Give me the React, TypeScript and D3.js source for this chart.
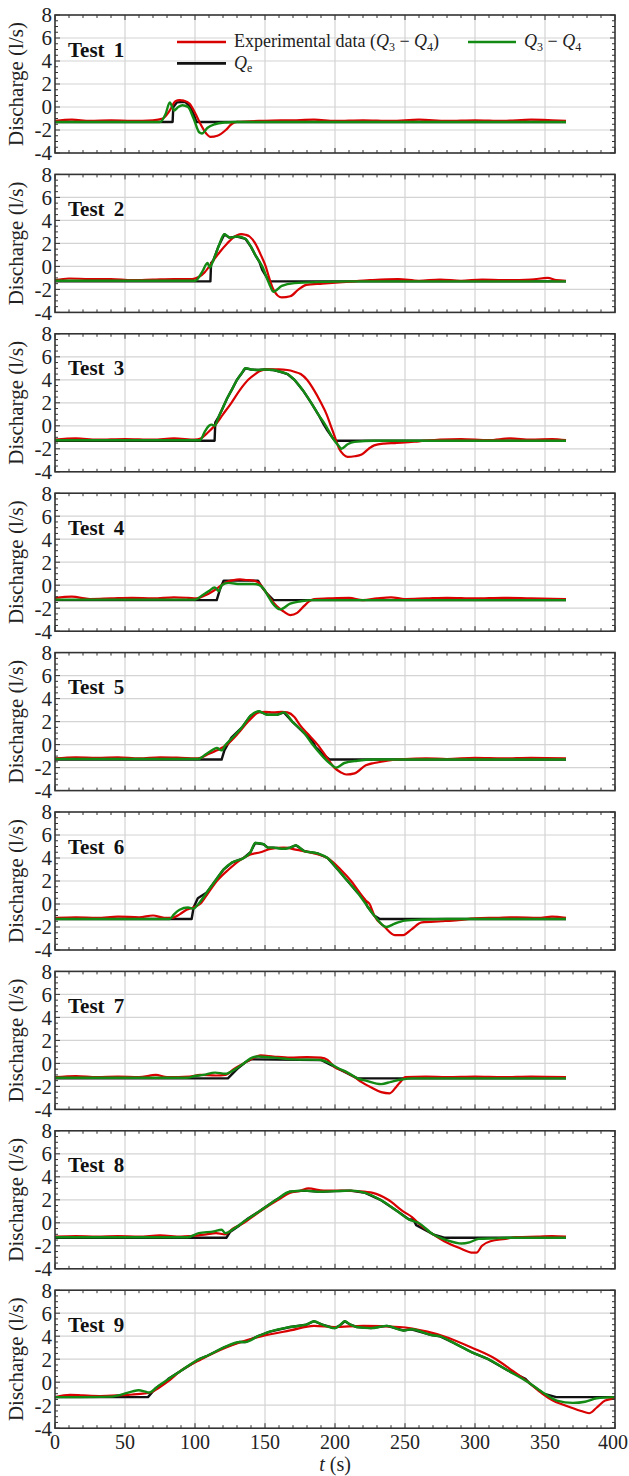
import React from "react";
import * as d3 from "d3";

// test data: [t (s), discharge (l/s)]
const exp1 = [[0,-1.2],[12,-1.1],[25,-1.2],[40,-1.15],[55,-1.2],[70,-1.15],[77,-1.0],[82,-0.3],[86,0.5],[89,0.6],[92,0.55],[96,0.3],[100,-0.5],[104,-1.5],[108,-2.3],[111,-2.6],[116,-2.5],[122,-2.0],[126,-1.5],[130,-1.3],[150,-1.2],[170,-1.15],[185,-1.1],[200,-1.2],[220,-1.15],[240,-1.2],[260,-1.1],[280,-1.2],[300,-1.15],[320,-1.2],[340,-1.1],[355,-1.15],[365,-1.2]];
const model1 = [[0,-1.3],[75,-1.3],[79,-0.6],[82,0.4],[85,-0.3],[88,0.0],[91,0.15],[95,0.0],[99,-1.0],[103,-2.2],[105,-2.3],[109,-1.8],[114,-1.5],[121,-1.35],[130,-1.3],[365,-1.3]];
const qe1 = [[0,-1.3],[84,-1.3],[84.5,0],[87,0.4],[93,0.45],[96,0.1],[99,-0.6],[101,-1.3],[365,-1.3]];

const exp2 = [[0,-1.2],[10,-1.05],[25,-1.1],[40,-1.1],[55,-1.2],[70,-1.15],[85,-1.1],[98,-1.1],[103,-0.9],[107,-0.5],[113,0.5],[118,1.3],[123,2.0],[130,2.7],[133,2.8],[136,2.75],[139,2.6],[143,2.0],[147,1.0],[150.5,0],[153,-1.0],[156,-2.0],[162,-2.7],[168,-2.6],[174,-2.0],[179.5,-1.6],[191,-1.5],[208,-1.35],[225,-1.2],[245,-1.1],[260,-1.25],[275,-1.15],[290,-1.25],[305,-1.15],[320,-1.2],[340,-1.15],[352,-1.0],[358,-1.2],[365,-1.25]];
const model2 = [[0,-1.25],[100,-1.25],[105,-0.5],[109,0.3],[110.5,-0.1],[113,0.5],[117,1.8],[121,2.8],[124.7,2.5],[130,2.6],[136,2.4],[140,1.7],[143,1.0],[148,0],[153,-1.5],[156,-2.2],[162,-1.7],[171,-1.45],[191,-1.35],[210,-1.3],[365,-1.3]];
const qe2 = [[0,-1.3],[111,-1.3],[111.5,0.3],[146,0.4],[148,-0.3],[153,-1.3],[365,-1.3]];

const exp3 = [[0,-1.2],[15,-1.1],[30,-1.2],[50,-1.15],[70,-1.2],[85,-1.1],[100,-1.2],[104,-1.1],[109,-0.6],[114,0],[120,1.0],[126,2.0],[132,3.1],[138,4.0],[143,4.5],[147,4.8],[152,4.9],[160,4.9],[166,4.85],[171,4.7],[175.5,4.5],[180,4.0],[185,3.1],[190,2.0],[194,1.0],[197,0],[200,-1.0],[203,-2.0],[206,-2.5],[209,-2.7],[214,-2.65],[219,-2.5],[224,-2.0],[228,-1.7],[235,-1.55],[243,-1.5],[250,-1.45],[260,-1.35],[275,-1.2],[290,-1.15],[310,-1.25],[325,-1.1],[340,-1.2],[355,-1.15],[365,-1.25]];
const model3 = [[0,-1.25],[103.6,-1.25],[107,-0.5],[110,0],[112,0.1],[114,0],[117,0.8],[120,1.6],[123,2.4],[127,3.3],[130,4.0],[133,4.5],[136,5.0],[140,4.9],[145,4.85],[150,4.9],[156,4.85],[161,4.7],[166,4.5],[171,4.0],[177,3.1],[183,2.0],[188,1.0],[193.5,0],[198,-1.0],[203,-1.8],[204.5,-2.0],[209,-1.6],[214,-1.4],[228,-1.3],[365,-1.3]];
const qe3 = [[0,-1.3],[114,-1.3],[114.5,0.3],[192,0.1],[194,-0.3],[198,-1],[200,-1.3],[365,-1.3]];

const exp4 = [[0,-1.1],[12,-1.0],[25,-1.2],[40,-1.15],[55,-1.1],[70,-1.15],[85,-1.05],[95,-1.1],[101,-1.15],[107,-0.9],[113,-0.5],[119,0],[123,0.3],[127.6,0.45],[132,0.5],[137,0.45],[142,0.4],[145.6,0.2],[150,-0.5],[156,-1.5],[160,-2.0],[163.5,-2.3],[168,-2.6],[173,-2.4],[178,-1.8],[181.5,-1.4],[185,-1.2],[195,-1.15],[210,-1.1],[220,-1.3],[230,-1.15],[240,-1.05],[250,-1.2],[265,-1.15],[280,-1.1],[300,-1.15],[320,-1.1],[340,-1.15],[365,-1.2]];
const model4 = [[0,-1.25],[100,-1.25],[105,-0.9],[110,-0.5],[114,-0.2],[117,-0.5],[119,0],[124,0.2],[132,0.1],[142,0.1],[146,0],[149,-0.3],[152,-0.9],[155,-1.5],[161,-2.1],[168,-1.6],[175.5,-1.4],[185,-1.3],[365,-1.3]];
const qe4 = [[0,-1.3],[115.5,-1.3],[118,-0.3],[120.5,0.4],[145,0.4],[148,-0.2],[152,-0.8],[156,-1.3],[365,-1.3]];

const exp5 = [[0,-1.2],[15,-1.1],[30,-1.15],[45,-1.1],[60,-1.2],[75,-1.1],[90,-1.15],[100,-1.2],[104,-1.15],[110,-0.8],[115.6,-0.5],[122.8,0],[131,1],[138,2],[145.6,2.8],[150,2.85],[156,2.8],[162,2.85],[166,2.8],[171,2.4],[175,1.7],[180,1.0],[187.5,0],[193.5,-1],[199.5,-2],[204,-2.4],[208,-2.6],[214,-2.5],[222,-1.8],[228,-1.6],[235,-1.45],[240,-1.35],[250,-1.25],[265,-1.2],[280,-1.25],[300,-1.15],[320,-1.2],[340,-1.15],[365,-1.2]];
const model5 = [[0,-1.25],[102.4,-1.25],[107,-0.9],[112,-0.5],[115.6,-0.3],[119,-0.5],[122,0],[126,0.5],[133.6,1.5],[139.6,2.5],[145.6,2.9],[151.6,2.6],[158.8,2.6],[163.5,2.8],[169.5,2.0],[178,1.0],[184,0],[191,-1],[196,-1.6],[200.7,-2.0],[206.7,-1.6],[216,-1.4],[228,-1.3],[365,-1.3]];
const qe5 = [[0,-1.3],[119,-1.3],[121,-0.5],[126,0.6],[184,0.3],[186,-0.2],[191,-0.8],[196,-1.3],[365,-1.3]];

const exp6 = [[0,-1.2],[15,-1.15],[30,-1.2],[45,-1.1],[60,-1.15],[70,-1.0],[78,-1.2],[84,-1.2],[89,-0.9],[94,-0.5],[98.8,-0.3],[103.6,0],[109.6,1],[115.6,2],[124,3],[132,3.8],[139.6,4.3],[146.8,4.5],[154,4.8],[163.5,4.9],[173,4.7],[185,4.4],[194.7,4],[204,3],[211.5,2],[217.5,1],[222,0.3],[224.7,0],[228,-1],[235.5,-2],[242.7,-2.7],[248.7,-2.7],[254.7,-2.2],[262,-1.6],[276,-1.5],[288,-1.4],[300,-1.25],[315,-1.2],[330,-1.15],[345,-1.2],[355,-1.1],[365,-1.2]];
const model6 = [[0,-1.3],[82,-1.3],[85,-0.9],[89,-0.5],[95,-0.3],[98.8,-0.4],[102.4,0],[108.4,1],[114.4,2],[120.4,3],[126.4,3.6],[134.8,4],[139.6,4.5],[143,5.3],[149,5.2],[152,4.9],[156,4.9],[163.5,4.8],[168,4.9],[172,5.1],[178,4.6],[187.5,4.4],[194.7,4],[202,3],[209,2],[216,1],[222,0],[228,-1],[236.7,-2],[242.7,-1.7],[250,-1.45],[262,-1.35],[280,-1.3],[365,-1.3]];
const qe6 = [[0,-1.3],[97.6,-1.3],[99,-0.3],[102,0.5],[221,0.4],[223,-0.2],[228,-1],[232,-1.3],[365,-1.3]];

const exp7 = [[0,-1.2],[15,-1.1],[30,-1.2],[45,-1.15],[60,-1.2],[72,-1.0],[80,-1.2],[96,-1.15],[103.6,-1.0],[115,-1.05],[121.6,-1.0],[127.6,-0.5],[134.8,0],[142,0.5],[146.8,0.7],[156,0.6],[168,0.5],[180,0.55],[190,0.5],[194.7,0.3],[199.5,-0.3],[206.7,-0.7],[214,-1.2],[218.7,-1.6],[226,-2.1],[233,-2.5],[239,-2.6],[244,-2.0],[247.5,-1.5],[250,-1.2],[265,-1.15],[280,-1.2],[300,-1.15],[320,-1.2],[340,-1.15],[365,-1.2]];
const model7 = [[0,-1.25],[94,-1.25],[100,-1.1],[106,-1.0],[114.4,-0.8],[121.6,-0.9],[128.8,-0.5],[134.8,0],[140.8,0.5],[144.4,0.6],[156,0.5],[170.7,0.35],[190,0.3],[194.7,0.1],[202,-0.4],[209,-0.8],[216,-1.3],[222,-1.5],[233,-1.8],[240,-1.6],[247.5,-1.4],[255,-1.3],[365,-1.3]];
const qe7 = [[0,-1.3],[123.5,-1.3],[130,-0.5],[136,0.1],[140,0.35],[190,0.3],[216,-1.3],[365,-1.3]];

const exp8 = [[0,-1.2],[15,-1.15],[30,-1.2],[45,-1.15],[60,-1.2],[75,-1.1],[90,-1.2],[97,-1.15],[108,-1.0],[115,-0.9],[121.6,-1.0],[127,-0.5],[135,0],[143,0.7],[152.7,1.5],[159.5,2],[167.6,2.6],[175.7,2.8],[181,3.0],[192,2.8],[205,2.8],[216,2.75],[227,2.6],[238,2.0],[248.6,1.0],[255,0.5],[262,-0.3],[270,-1.0],[278,-1.6],[289,-2.2],[298.6,-2.6],[301,-2.6],[305,-2.0],[311,-1.6],[321.6,-1.4],[330,-1.25],[345,-1.2],[355,-1.15],[365,-1.2]];
const model8 = [[0,-1.25],[94.6,-1.25],[102.7,-0.9],[113.5,-0.75],[119,-0.6],[121.6,-0.9],[128,-0.5],[133.8,0],[146,1],[158,2],[167.6,2.7],[178,2.8],[189,2.7],[200,2.75],[211,2.8],[221.6,2.6],[232.4,2],[244.6,1],[252.7,0.3],[259.5,0],[270,-1],[279.7,-1.5],[290.5,-1.8],[296,-1.7],[302.7,-1.4],[313.5,-1.35],[325,-1.3],[365,-1.3]];
const qe8 = [[0,-1.3],[122.4,-1.3],[125,-0.8],[131,-0.3],[137,0.3],[256,0.3],[258,-0.2],[270,-1],[278,-1.3],[365,-1.3]];

const exp9 = [[0,-1.3],[10.7,-1.1],[20,-1.15],[32,-1.2],[45,-1.15],[52.5,-1.1],[62.6,-1.0],[68.4,-0.9],[74,-0.5],[80,0],[90,1],[104.5,2],[121.8,3],[133,3.5],[147.8,4],[168,4.5],[185,4.9],[199.7,4.8],[220,4.9],[246,4.8],[266,4.4],[277.6,4],[297.8,3],[315,2],[326.7,1],[338,0],[348,-1],[355.6,-1.6],[364,-2.0],[375.8,-2.5],[381.5,-2.7],[387,-2.2],[393,-1.6],[400,-1.4]];
const model9 = [[0,-1.3],[41,-1.25],[46.8,-1.1],[55.4,-0.8],[59.7,-0.7],[64,-0.8],[67,-0.9],[74,-0.3],[81.4,0.3],[90,1],[103,2],[108.8,2.3],[120.3,3],[132,3.5],[136,3.5],[145,4],[153.5,4.4],[168,4.8],[179.5,5.0],[185,5.3],[191,5.0],[199.7,4.7],[203,4.9],[207,5.3],[211,5.0],[215.6,4.8],[225.7,4.7],[237,4.9],[248.8,4.5],[254.5,4.6],[269,4.1],[274.7,4.0],[283.4,3.5],[297.8,2.6],[309.4,2],[323.8,1],[338,0],[349.8,-1],[358.4,-1.6],[370,-1.8],[378.6,-1.7],[387,-1.4],[400,-1.3]];
const qe9 = [[0,-1.3],[66.4,-1.3],[72,-0.5],[78,-0.1],[81,0.3],[336,0.3],[339,-0.1],[349,-1],[358,-1.3],[400,-1.3]];

// spans where Qe runs underneath the model curve (null: drawn from its own points only)
const qeFollow = [null, [112, 145], [115, 191], null, [127, 183], [103, 220], null, [138, 255], [82, 335]];

const testNames = ["Test 1", "Test 2", "Test 3", "Test 4", "Test 5", "Test 6", "Test 7", "Test 8", "Test 9"];
const expSeries = [exp1, exp2, exp3, exp4, exp5, exp6, exp7, exp8, exp9];
const modelSeries = [model1, model2, model3, model4, model5, model6, model7, model8, model9];
const qeSeries = [qe1, qe2, qe3, qe4, qe5, qe6, qe7, qe8, qe9];

const xTicks = [0, 50, 100, 150, 200, 250, 300, 350, 400];
const yTicks = [-4, -2, 0, 2, 4, 6, 8];

const W = 629;
const H = 1476;
const left = 55;
const right = 615;
const firstTop = 15;
const step = 159.4;
const panelH = 138;

const RED = "#d90000";
const GREEN = "#138a13";
const BLACK = "#111";
const FONT = "Liberation Serif, DejaVu Serif, serif";

const x = d3.scaleLinear().domain([0, 400]).range([left, right]);
const xMinor = d3.range(0, 401, 10);
const yMinor = d3.range(-4, 8.01, 0.5);

const qePoints = (i: number) => {
  const span = qeFollow[i];
  if (!span) return qeSeries[i];
  const [t0, t1] = span;
  return [
    ...qeSeries[i].filter((d) => d[0] <= t0),
    ...modelSeries[i].filter((d) => d[0] > t0 && d[0] < t1),
    ...qeSeries[i].filter((d) => d[0] >= t1),
  ];
};

const Sub = ({ children }: { children: React.ReactNode }) => (
  <tspan fontSize="12" dy="3.5">{children}</tspan>
);

const Panel = ({ i }: { i: number }) => {
  const top = firstTop + i * step;
  const y = d3.scaleLinear().domain([-4, 8]).range([top + panelH, top]);
  const smooth = d3
    .line<number[]>()
    .x((d) => x(d[0]))
    .y((d) => y(d[1]))
    .curve(d3.curveMonotoneX);
  const straight = d3
    .line<number[]>()
    .x((d) => x(d[0]))
    .y((d) => y(d[1]));
  const isLast = i === 8;

  return (
    <g>
      <defs>
        <clipPath id={`clip${i}`}>
          <rect x={left} y={top} width={right - left} height={panelH} />
        </clipPath>
      </defs>
      {/* grid */}
      {xTicks.slice(1, -1).map((t) => (
        <line key={"gx" + t} x1={x(t)} x2={x(t)} y1={top} y2={top + panelH} stroke="#d4d4d4" strokeWidth={1.2} />
      ))}
      {yTicks.slice(1, -1).map((t) => (
        <line key={"gy" + t} x1={left} x2={right} y1={y(t)} y2={y(t)} stroke="#d4d4d4" strokeWidth={1.2} />
      ))}
      {/* series */}
      <g clipPath={`url(#clip${i})`} fill="none" strokeLinejoin="round">
        <path d={straight(qePoints(i)) || ""} stroke={BLACK} strokeWidth={2.4} />
        <path d={smooth(expSeries[i]) || ""} stroke={RED} strokeWidth={2.2} />
        <path d={smooth(modelSeries[i]) || ""} stroke={GREEN} strokeWidth={2.4} />
      </g>
      {/* ticks */}
      {xMinor.map((t) => {
        const len = t % 50 === 0 ? 5 : 3;
        return (
          <g key={"mx" + t} stroke="#333" strokeWidth={1}>
            <line x1={x(t)} x2={x(t)} y1={top + panelH} y2={top + panelH - len} />
            <line x1={x(t)} x2={x(t)} y1={top} y2={top + len} />
          </g>
        );
      })}
      {yMinor.map((t) => {
        const len = Math.abs(t % 2) < 1e-6 ? 5 : 3;
        return (
          <g key={"my" + t} stroke="#333" strokeWidth={1}>
            <line x1={left} x2={left + len} y1={y(t)} y2={y(t)} />
            <line x1={right} x2={right - len} y1={y(t)} y2={y(t)} />
          </g>
        );
      })}
      <rect x={left} y={top} width={right - left} height={panelH} fill="none" stroke="#333" strokeWidth={1.6} />
      {/* y tick labels */}
      {yTicks.map((t) => (
        <text key={"yl" + t} x={left - 3} y={y(t)} dy="0.35em" textAnchor="end" fontSize={21} fill="#222" fontFamily={FONT}>
          {t < 0 ? "-" + Math.abs(t) : t}
        </text>
      ))}
      <text
        transform={`translate(${23},${top + panelH / 2}) rotate(-90)`}
        textAnchor="middle"
        fontSize={21}
        fill="#222"
        fontFamily={FONT}
      >
        Discharge (l/s)
      </text>
      <text x={68} y={y(5) + 7} fontSize={21} fontWeight="bold" wordSpacing={4} fill="#111" fontFamily={FONT}>
        {testNames[i]}
      </text>
      {isLast &&
        xTicks.map((t) => (
          <text
            key={"xl" + t}
            x={t === 400 ? W - 1 : x(t)}
            y={top + panelH + 21}
            textAnchor={t === 400 ? "end" : "middle"}
            fontSize={20}
            fill="#222"
            fontFamily={FONT}
          >
            {t}
          </text>
        ))}
      {isLast && (
        <text x={x(200)} y={H - 5} textAnchor="middle" fontSize={20} fill="#222" fontFamily={FONT}>
          <tspan fontStyle="italic">t</tspan> (s)
        </text>
      )}
      {i === 0 && (
        <g fontFamily={FONT} fontSize={18} fill="#222">
          <line x1={177} x2={226} y1={y(5.65)} y2={y(5.65)} stroke={RED} strokeWidth={2.6} />
          <text x={234} y={y(5.65)} dy="0.3em">
            Experimental data (<tspan fontStyle="italic">Q</tspan><Sub>3</Sub>
            <tspan dy="-3.5"> − </tspan><tspan fontStyle="italic">Q</tspan><Sub>4</Sub><tspan dy="-3.5">)</tspan>
          </text>
          <line x1={468} x2={516} y1={y(5.65)} y2={y(5.65)} stroke={GREEN} strokeWidth={2.6} />
          <text x={524} y={y(5.65)} dy="0.3em">
            <tspan fontStyle="italic">Q</tspan><Sub>3</Sub>
            <tspan dy="-3.5"> − </tspan><tspan fontStyle="italic">Q</tspan><Sub>4</Sub>
          </text>
          <line x1={177} x2={226} y1={y(3.8)} y2={y(3.8)} stroke={BLACK} strokeWidth={2.8} />
          <text x={234} y={y(3.8)} dy="0.3em">
            <tspan fontStyle="italic">Q</tspan><Sub>e</Sub>
          </text>
        </g>
      )}
    </g>
  );
};

export default function App() {
  return (
    <svg width={W} height={H} style={{ position: "absolute", left: 0, top: 0, background: "#fff" }}>
      {testNames.map((_, i) => (
        <Panel key={i} i={i} />
      ))}
    </svg>
  );
}
